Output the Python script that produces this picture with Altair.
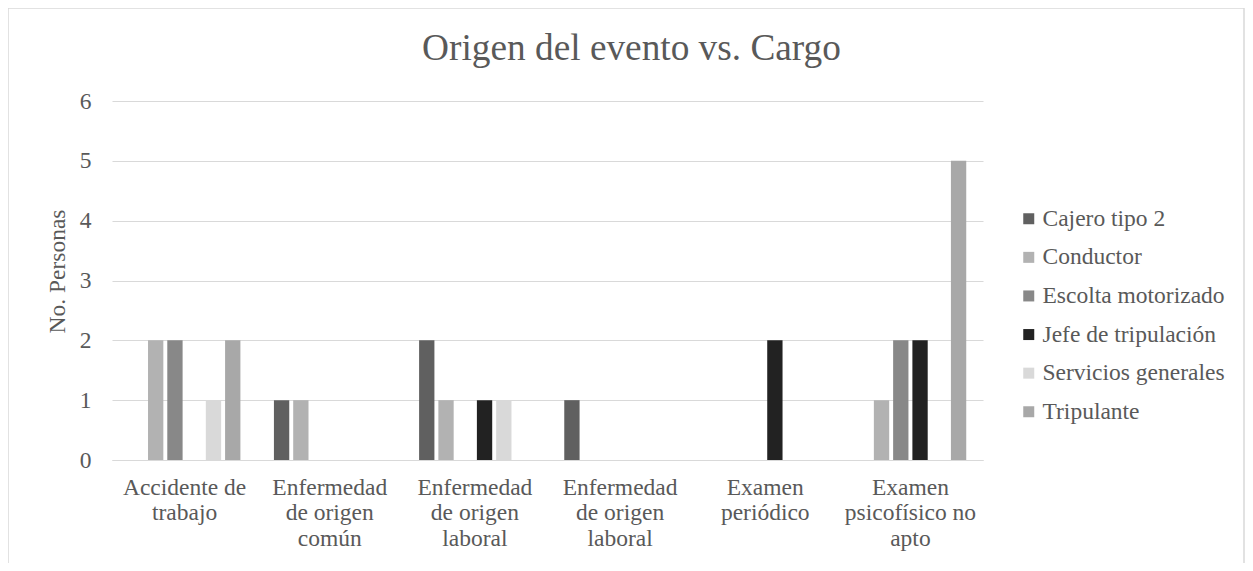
import altair as alt
import pandas as pd

categories = ["Accidente de trabajo", "Enfermedad de origen común", "Enfermedad de origen laboral",
              "Enfermedad de origen laboral", "Examen periódico", "Examen psicofísico no apto"]
category_lines = [["Accidente de", "trabajo"], ["Enfermedad", "de origen", "común"],
                  ["Enfermedad", "de origen", "laboral"], ["Enfermedad", "de origen", "laboral"],
                  ["Examen", "periódico"], ["Examen", "psicofísico no", "apto"]]
series = ["Cajero tipo 2", "Conductor", "Escolta motorizado", "Jefe de tripulación",
          "Servicios generales", "Tripulante"]
colors = ["#606060", "#b2b2b2", "#888888", "#222222", "#d9d9d9", "#a8a8a8"]

cajero = [0, 1, 2, 1, 0, 0]
conductor = [2, 1, 1, 0, 0, 1]
escolta = [2, 0, 0, 0, 0, 2]
jefe = [0, 0, 1, 0, 2, 2]
servicios = [1, 0, 1, 0, 0, 0]
tripulante = [2, 0, 0, 0, 0, 5]

values = [cajero, conductor, escolta, jefe, servicios, tripulante]
rows = []
for s, vals in zip(series, values):
    for i, v in enumerate(vals):
        rows.append({"idx": i, "categoria": categories[i], "cargo": s, "n": v})
df = pd.DataFrame(rows)

label_expr = "[" + ",".join("[" + ",".join("'" + l + "'" for l in lines) + "]" for lines in category_lines) + "][datum.value]"

FONT = "Liberation Serif"
TXT = "#595959"
FS = 23.5
W, H = 871, 359
PL, PT, PR, PB = 104, 93, 262, 103

bars = alt.Chart(df).mark_bar().encode(
    x=alt.X("idx:O", title=None,
            scale=alt.Scale(paddingInner=0, paddingOuter=0),
            axis=alt.Axis(labelExpr=label_expr, labelAngle=0, labelFont=FONT, labelFontSize=FS,
                          labelColor=TXT, labelLineHeight=25.5, labelPadding=15, ticks=False,
                          tickSize=0, domainColor="#d9d9d9", domainWidth=1, grid=False,
                          labelBaseline="top")),
    xOffset=alt.XOffset("cargo:N", sort=series,
                        scale=alt.Scale(paddingInner=0.205, paddingOuter=0.87)),
    y=alt.Y("n:Q", title="No. Personas",
            scale=alt.Scale(domain=[0, 6], nice=False),
            axis=alt.Axis(values=[0, 1, 2, 3, 4, 5, 6], format="d", labelFont=FONT, labelFontSize=FS,
                          labelColor=TXT, ticks=False, tickSize=0, labelPadding=21, domain=False,
                          gridColor="#d9d9d9", gridWidth=1, titleFont=FONT, titleFontSize=FS,
                          titleFontWeight="normal", titleColor=TXT, titlePadding=10, titleY=170)),
    color=alt.Color("cargo:N", sort=series,
                    scale=alt.Scale(domain=series, range=colors),
                    legend=alt.Legend(title=None, orient="none", legendX=905, legendY=106,
                                      symbolType="square", symbolSize=121, symbolStrokeWidth=0,
                                      labelFont=FONT, labelFontSize=FS, labelColor=TXT,
                                      labelLimit=300, rowPadding=13.6, labelOffset=2)),
)

border = alt.Chart(alt.Data(values=[{}])).mark_rect(
    fill=None, stroke="#d9d9d9", strokeWidth=1.5
).encode(
    x=alt.value(-PL), x2=alt.value(W + PR - 1),
    y=alt.value(-PT), y2=alt.value(H + PB + 20),
)

chart = alt.layer(border, bars).properties(
    width=W, height=H,
    autosize=alt.AutoSizeParams(type="none"),
    padding={"left": PL, "top": PT, "right": PR, "bottom": PB},
    title=alt.Title("Origen del evento vs. Cargo", font=FONT, fontSize=37.3, fontWeight="normal",
                    color=TXT, anchor="middle", dx=84, offset=0, dy=90, baseline="alphabetic"),
).configure_view(stroke=None)

chart.save("out.html", embed_options={"renderer": "svg", "actions": False})
